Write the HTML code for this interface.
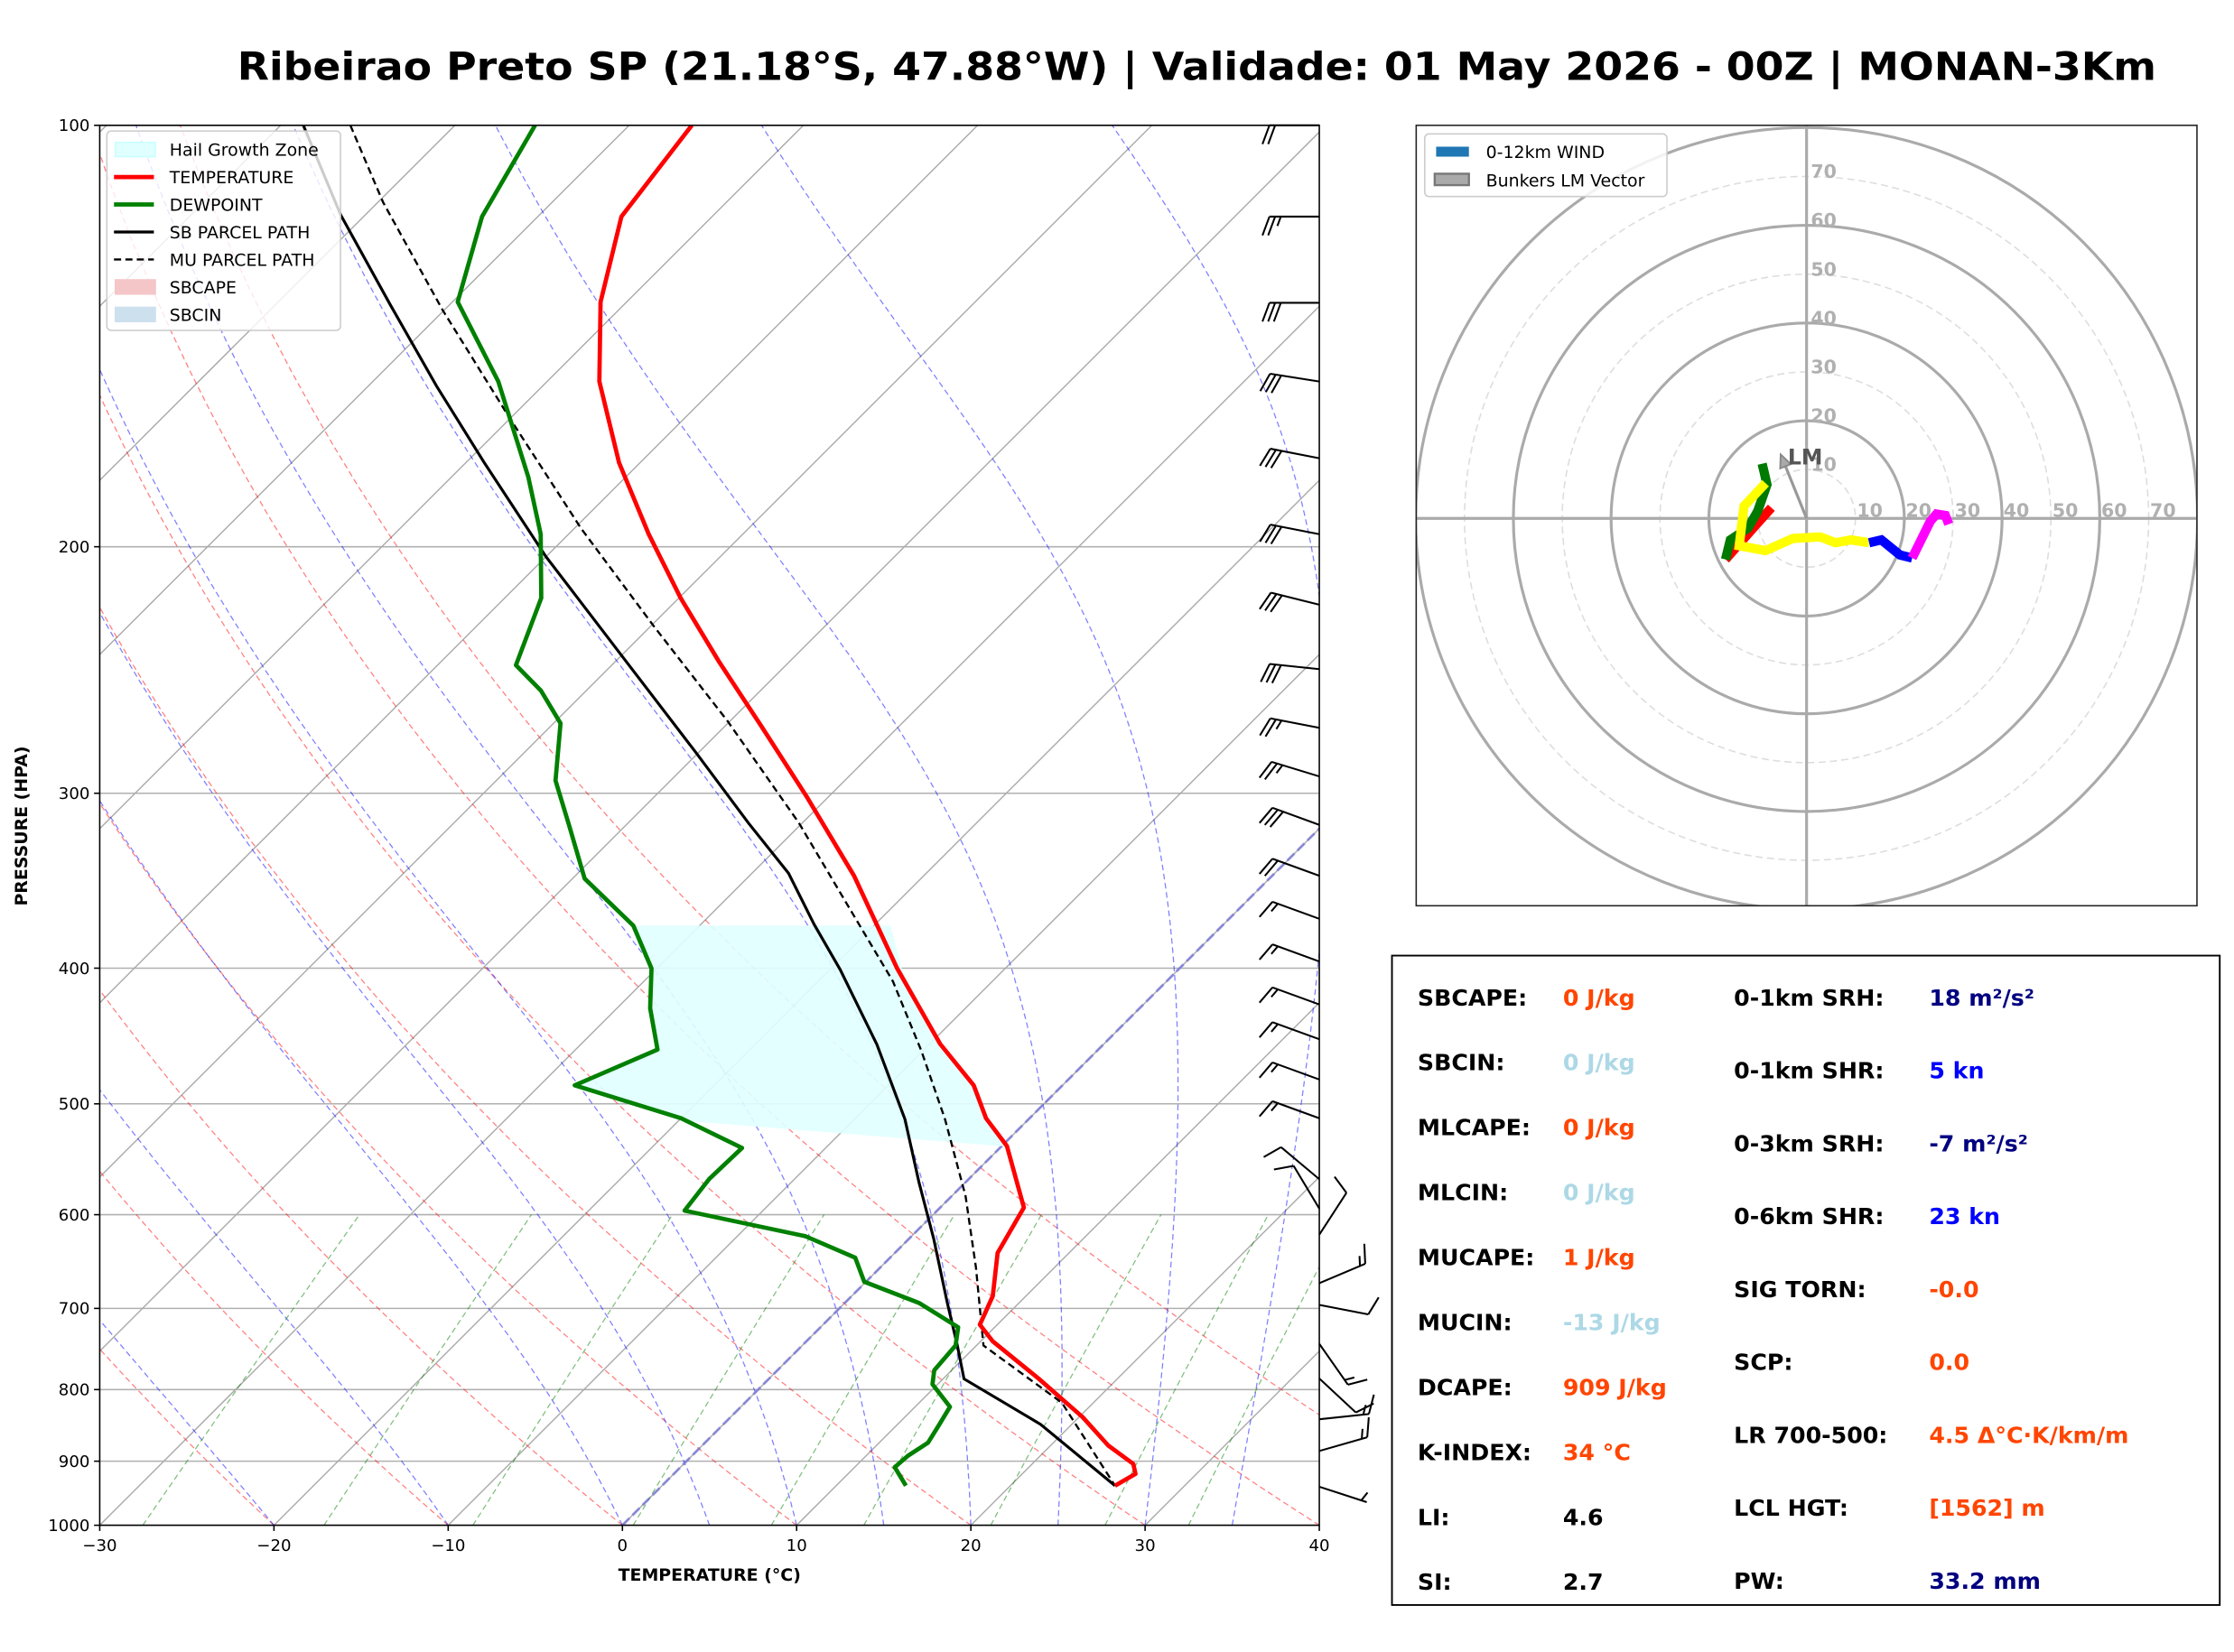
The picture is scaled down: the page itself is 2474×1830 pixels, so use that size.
<!DOCTYPE html>
<html><head><meta charset="utf-8"><title>Skew-T Ribeirao Preto</title>
<style>
html,body{margin:0;padding:0;background:#fff;}
svg{display:block;font-family:"DejaVu Sans","Liberation Sans",sans-serif;}
</style></head>
<body>
<svg id="fig" xmlns="http://www.w3.org/2000/svg" width="2474" height="1830" viewBox="0 0 1568 1160" preserveAspectRatio="none">
<defs>
<clipPath id="skewclip"><rect x="70" y="88" width="856" height="983"/></clipPath>
<clipPath id="hodoclip"><rect x="994" y="88" width="548" height="548"/></clipPath>
</defs>
<rect x="0" y="0" width="1568" height="1160" fill="#fff"/>
<text x="840" y="56" text-anchor="middle" font-weight="bold" font-size="27" textLength="1347" lengthAdjust="spacingAndGlyphs">Ribeirao Preto SP (21.18°S, 47.88°W) | Validade: 01 May 2026 - 00Z | MONAN-3Km</text>
<g id="skew"></g>
<g id="hodo"></g>
<g id="stats"></g>
</svg>
<script>
// ---------- DATA ----------
const tempP=[100,116.2,133.7,152.4,174.2,195.9,217.6,241.8,268.7,302,343.6,400.2,453.1,485,512,536,593,639,686,719,739,786,837,877,904,919,937];
const tempT=[-76.4,-75.2,-71.5,-67.0,-61.2,-55.4,-49.9,-44.0,-37.9,-31.2,-24.0,-16.2,-9.4,-5.1,-2.5,0.3,4.8,5.9,8.1,9.0,10.7,15.5,20.2,23.3,25.8,26.5,26.0];
const dewP=[100,116.2,133.7,152.4,178.3,195.9,217.6,243,253.4,267.4,293.8,316.6,345.2,373,400.2,427.2,457.3,485,512,537.6,566,596,621.6,644,670,694,722,744,775,793,823,847,873,892,909,937];
const dewT=[-85.4,-83.2,-79.7,-72.8,-65.6,-61.6,-57.9,-55.5,-52.6,-49.6,-46.6,-43.2,-39.3,-33.8,-30.3,-28.1,-25.3,-28.0,-20.0,-14.8,-14.9,-14.5,-6.1,-2.0,-0.1,4.3,7.9,8.8,9.0,9.7,12.0,12.4,12.8,12.4,12.3,14.0];
const sbP=[100,115.9,134.1,153.5,174,203.3,240.3,280.8,315,342.2,372.2,401,453.5,512.8,568.5,624,694,744,786,847,937];
const sbT=[-98.7,-91.4,-83.5,-76.1,-69.0,-60.0,-49.7,-40.1,-33.1,-27.9,-23.5,-19.4,-13.0,-7.1,-2.7,1.4,5.9,8.9,11.2,18.2,26.0];
const muP=[100,113.5,135.5,161.7,194.1,228,266.6,315,364.4,408.8,458.1,512.8,582,654.6,744,817.6,937];
const muT=[-96.0,-89.7,-80.1,-70.1,-59.6,-49.8,-40.1,-30.2,-22.1,-15.7,-10.1,-4.8,0.8,5.5,10.4,18.2,26.0];
const pressureTicks=[100,200,300,400,500,600,700,800,900,1000];
const tempTicks=[-30,-20,-10,0,10,20,30,40];
const barbP=[100,116.2,133.9,152.4,172.9,195.9,220,244.6,269.4,291.8,316,343.6,368.8,395.6,424.6,449.6,480.4,512,566,594,620,671.6,696,742,785.5,840,885,938.6];
const barbSpd=[20,25,30,30,30,30,30,30,25,25,30,20,15,15,15,15,15,15,10,10,10,15,10,15,10,15,15,5];
const barbDir=[270,270,270,279,281,281,284,276,281,287,290,290,290,290,290,290,290,290,310,329,33,67,101,145,133,84,74,108];
const hodoRedU=[-7.2,-10.5,-16.6], hodoRedV=[2.2,-1.5,-8.4];
const hodoGreenU=[-16.6,-15.6,-12,-10,-8.1,-8.7,-9.1], hodoGreenV=[-8.4,-4.4,-2,1.5,6.9,9.5,11.2];
const hodoYellowU=[-8.4,-12.8,-13.8,-8.4,-2.8,2.8,5.9,9.1,12.8], hodoYellowV=[7.2,2.5,-5.6,-6.6,-4.1,-3.8,-5.0,-4.4,-5.0];
const hodoBlueU=[12.8,15.3,19.1,21.6], hodoBlueV=[-5.0,-4.4,-7.5,-8.1];
const hodoMagU=[21.6,25.3,26.6,28.4,29.1], hodoMagV=[-8.1,-0.6,0.9,0.6,-1.2];
const lmU=-5.3, lmV=13.1;
const hodoRings=[10,20,30,40,50,60,70,80];

// ---------- helpers ----------
const NS='http://www.w3.org/2000/svg';
function mk(tag,attrs,parent){const e=document.createElementNS(NS,tag);for(const k in attrs)e.setAttribute(k,attrs[k]);if(parent)parent.appendChild(e);return e;}
const X0=70,X1=926,Y0=88,Y1=1071,K=856/70;
const yP=p=>Y0+983*Math.log10(p/100);
const xT=(T,p)=>X0+(T+30)*K+(Y1-yP(p));
function pathFrom(P,T){return P.map((p,i)=>(i?'L':'M')+xT(T[i],p).toFixed(2)+' '+yP(p).toFixed(2)).join('');}

const skew=document.getElementById('skew');
const clip=mk('g',{'clip-path':'url(#skewclip)'},skew);



pressureTicks.forEach(p=>{
  const l=mk('line',{x1:X0,x2:X1,y1:yP(p),y2:yP(p),stroke:'#b0b0b0','stroke-width':1},clip);
  
  
});
for(let T=-120;T<=40;T+=10){
  const l=mk('path',{d:'M'+xT(T,1000)+' '+yP(1000)+'L'+xT(T,100)+' '+yP(100),stroke:'#aaaaaa','stroke-width':0.9,fill:'none'},clip);
  
  
}
for(let th=-30;th<=50;th+=10){
  let d='';for(let p=1000;p>=100;p-=10){const T=(th+273.15)*Math.pow(p/1000,0.2857)-273.15;d+=(d?'L':'M')+xT(T,p).toFixed(1)+' '+yP(p).toFixed(1);}
  const l=mk('path',{d:d,stroke:'#ff0000','stroke-opacity':0.5,'stroke-width':0.8,'stroke-dasharray':'4 2.5',fill:'none'},clip);
  
  
}
function es(Tc){return 6.112*Math.exp(17.67*Tc/(Tc+243.5));}
function dTdp(Tk,p){const rs=0.622*es(Tk-273.15)/(p-es(Tk-273.15));return (287.04*Tk+2.501e6*rs)/(p*(1005.7+2.501e6*2.501e6*rs*0.622/(287.04*Tk*Tk)));}
[-30,-20,-10,0,5,10,15,20,25,30,35].forEach(t0=>{
  let Tk=t0+273.15,p=1000,d='M'+xT(t0,1000).toFixed(1)+' '+yP(1000).toFixed(1);
  const h=-5;
  while(p>100){const k1=dTdp(Tk,p),k2=dTdp(Tk+h*k1,p+h);Tk+=h*(k1+k2)/2;p+=h;d+='L'+xT(Tk-273.15,p).toFixed(1)+' '+yP(p).toFixed(1);}
  const l=mk('path',{d:d,stroke:'#0000ff','stroke-opacity':0.5,'stroke-width':0.8,'stroke-dasharray':'4 2.5',fill:'none'},clip);
  
  
});
[0.0004,0.001,0.002,0.004,0.007,0.01,0.016,0.024,0.032].forEach(w=>{
  let d='';for(let p=1000;p>=600;p-=20){const e=p*w/(0.622+w);const lnr=Math.log(e/6.112);const Td=243.5*lnr/(17.67-lnr);d+=(d?'L':'M')+xT(Td,p).toFixed(1)+' '+yP(p).toFixed(1);}
  const l=mk('path',{d:d,stroke:'#008000','stroke-opacity':0.5,'stroke-width':0.8,'stroke-dasharray':'4 2.5',fill:'none'},clip);
  
  
});
const zero=mk('path',{d:'M'+xT(0,1000)+' '+yP(1000)+'L'+xT(0,100)+' '+yP(100),stroke:'#7b7bd8','stroke-width':1.8,'stroke-dasharray':'7 3',fill:'none','stroke-opacity':0.8},clip);


const hail=mk('path',{d:'M446 650L625 650L633 680L660 733L684 762L692 785L706 805L480 787L403 762L462 737L456 708L457 680Z',fill:'#e0ffff','fill-opacity':0.9,stroke:'none'},clip);


const sbl=mk('path',{d:pathFrom(sbP,sbT),stroke:'#000',fill:'none','stroke-width':2},clip);


const mul=mk('path',{d:pathFrom(muP,muT),stroke:'#000',fill:'none','stroke-width':1.5,'stroke-dasharray':'5 3'},clip);


const tl=mk('path',{d:pathFrom(tempP,tempT),stroke:'#ff0000',fill:'none','stroke-width':3,'stroke-linejoin':'round'},clip);


const dl=mk('path',{d:pathFrom(dewP,dewT),stroke:'#008000',fill:'none','stroke-width':3,'stroke-linejoin':'round'},clip);



const fr=mk('rect',{x:X0,y:Y0,width:X1-X0,height:Y1-Y0,fill:'none',stroke:'#000','stroke-width':1},skew);


pressureTicks.forEach(p=>{
  const t=mk('line',{x1:X0-4,x2:X0,y1:yP(p),y2:yP(p),stroke:'#000','stroke-width':1},skew);
  
  
  const tx=mk('text',{x:X0-7,y:yP(p)+4,'text-anchor':'end','font-size':11.5},skew);
  tx.textContent=p;
  
  
});
tempTicks.forEach(T=>{
  const x=X0+(T+30)*K;
  const t=mk('line',{x1:x,x2:x,y1:Y1,y2:Y1+4,stroke:'#000','stroke-width':1},skew);
  
  
  const tx=mk('text',{x:x,y:Y1+18,'text-anchor':'middle','font-size':11.5},skew);
  tx.textContent=(T<0?'\u2212'+(-T):T);
  
  
});
const xl=mk('text',{x:498,y:1110,'text-anchor':'middle','font-size':12,'font-weight':'bold'},skew);
xl.textContent='TEMPERATURE (°C)';


const yl=mk('text',{x:0,y:0,'text-anchor':'middle','font-size':12,'font-weight':'bold',transform:'translate(19 580) rotate(-90)'},skew);
yl.textContent='PRESSURE (HPA)';



barbP.forEach((p,i)=>{
  const g=mk('g',{stroke:'#000','stroke-width':1.3,fill:'none'},skew);
  
  
  const ax=X1,ay=yP(p),L=35,th=barbDir[i]*Math.PI/180;
  const sx=Math.sin(th),sy=-Math.cos(th);
  const ex=ax+sx*L,ey=ay+sy*L;
  mk('line',{x1:ax,y1:ay,x2:ex,y2:ey},g);
  const px=sy,py=-sx,tilt=0.35,bl=14;
  const tx=px*0.94+sx*tilt,ty=py*0.94+sy*tilt;
  let spd=barbSpd[i],pos=0;
  const full=Math.floor(spd/10),half=(spd%10)>=5?1:0;
  for(let k=0;k<full;k++){const bx=ex-sx*pos,by=ey-sy*pos;mk('line',{x1:bx,y1:by,x2:bx+tx*bl,y2:by+ty*bl},g);pos+=4;}
  if(half){if(full===0)pos=4;const bx=ex-sx*pos,by=ey-sy*pos;mk('line',{x1:bx,y1:by,x2:bx+tx*bl/2,y2:by+ty*bl/2},g);}
});

const lg=mk('g',{},skew);


mk('rect',{x:75,y:92,width:164,height:140,rx:3,fill:'#fff','fill-opacity':0.8,stroke:'#cccccc'},lg);
const items=[['Hail Growth Zone','patch','#e0ffff','#c8ffff'],['TEMPERATURE','line','#ff0000',3],['DEWPOINT','line','#008000',3],['SB PARCEL PATH','line','#000',2],['MU PARCEL PATH','dash','#000',1.5],['SBCAPE','patch','#f4c6c8','#f4c6c8'],['SBCIN','patch','#cde0ee','#cde0ee']];
items.forEach((it,i)=>{
  const y=105+i*19.3;
  const e=mk('g',{},lg);
  
  
  if(it[1]==='patch')mk('rect',{x:81,y:y-5,width:28,height:10,fill:it[2],stroke:it[3]},e);
  else mk('line',{x1:80,x2:108,y1:y,y2:y,stroke:it[2],'stroke-width':it[3],'stroke-dasharray':it[1]==='dash'?'5 3':'none'},e);
  const t=mk('text',{x:119,y:y+4.5,'font-size':12},e);t.textContent=it[0];
});

// ---------- HODOGRAPH ----------
const hodo=document.getElementById('hodo');
const CX=1268,CY=364,R=3.43;
const hc=mk('g',{'clip-path':'url(#hodoclip)'},hodo);


hodoRings.forEach(k=>{
  const c=mk('circle',{cx:CX,cy:CY,r:k*R,fill:'none',stroke:k%20===0?'#aaaaaa':'#dddddd','stroke-width':k%20===0?2:1,'stroke-dasharray':k%20===0?'none':'5 3'},hc);
  
  
});
const ha=mk('path',{d:'M994 '+CY+'L1542 '+CY+'M'+CX+' 88L'+CX+' 636',stroke:'#aaaaaa','stroke-width':2},hc);


hodoRings.slice(0,7).forEach(k=>{
  const t=mk('text',{x:CX+k*R+1,y:CY-1,'font-size':13,'font-weight':'bold',fill:'#b0b0b0'},hc);t.textContent=k;
  
  
  const t2=mk('text',{x:CX+3,y:CY-k*R+1,'font-size':13,'font-weight':'bold',fill:'#b0b0b0'},hc);t2.textContent=k;
  
  
});
function hseg(U,V,color,name){
  const d=U.map((u,i)=>(i?'L':'M')+(CX+u*R).toFixed(1)+' '+(CY-V[i]*R).toFixed(1)).join('');
  const p=mk('path',{d:d,stroke:color,'stroke-width':6.5,fill:'none','stroke-linejoin':'miter','stroke-linecap':'butt'},hc);
  
  
}
hseg(hodoRedU,hodoRedV,'#ff0000','hodo-segment-red');
hseg(hodoGreenU,hodoGreenV,'#007a00','hodo-segment-green');
hseg(hodoYellowU,hodoYellowV,'#ffff00','hodo-segment-yellow');
hseg(hodoBlueU,hodoBlueV,'#0000ff','hodo-segment-blue');
hseg(hodoMagU,hodoMagV,'#ff00ff','hodo-segment-magenta');
const lmx=CX+lmU*R,lmy=CY-lmV*R;
const ang=Math.atan2(lmy-CY,lmx-CX);
const ar=mk('g',{},hc);


const bx=lmx-Math.cos(ang)*9,by=lmy-Math.sin(ang)*9;
mk('line',{x1:CX,y1:CY,x2:bx,y2:by,stroke:'#999','stroke-width':2},ar);
mk('path',{d:'M'+lmx+' '+lmy+'L'+(bx+Math.sin(ang)*4)+' '+(by-Math.cos(ang)*4)+'L'+(bx-Math.sin(ang)*4)+' '+(by+Math.cos(ang)*4)+'Z',fill:'#aaa',stroke:'#888','stroke-width':1.2},ar);
const lmt=mk('text',{x:lmx+5,y:lmy+7,'font-size':15,'font-weight':'bold',fill:'#555'},hc);
lmt.textContent='LM';


const hf=mk('rect',{x:994,y:88,width:548,height:548,fill:'none',stroke:'#222','stroke-width':1},hodo);


const hl=mk('g',{},hodo);


mk('rect',{x:1000,y:94,width:170,height:44,rx:3,fill:'#fff','fill-opacity':0.85,stroke:'#cccccc'},hl);
const he1=mk('g',{},hl);


mk('rect',{x:1008,y:103,width:23,height:7,fill:'#1f77b4'},he1);
const ht1=mk('text',{x:1043,y:111,'font-size':12},he1);ht1.textContent='0-12km WIND';
const he2=mk('g',{},hl);


mk('rect',{x:1007,y:122,width:24,height:8,fill:'#aaaaaa',stroke:'#777','stroke-width':1.5},he2);
const ht2=mk('text',{x:1043,y:131,'font-size':12},he2);ht2.textContent='Bunkers LM Vector';

// ---------- STATS ----------
const st=document.getElementById('stats');
const sb=mk('rect',{x:977,y:671,width:581,height:456,fill:'#fff',stroke:'#000','stroke-width':1.2},st);


const OR='#ff4500',LB='#add8e6',NV='#000080',BL='#0000ff',BK='#000';
const left=[['SBCAPE:','0 J/kg',OR],['SBCIN:','0 J/kg',LB],['MLCAPE:','0 J/kg',OR],['MLCIN:','0 J/kg',LB],['MUCAPE:','1 J/kg',OR],['MUCIN:','-13 J/kg',LB],['DCAPE:','909 J/kg',OR],['K-INDEX:','34 °C',OR],['LI:','4.6',BK],['SI:','2.7',BK]];
const right=[['0-1km SRH:','18 m²/s²',NV],['0-1km SHR:','5 kn',BL],['0-3km SRH:','-7 m²/s²',NV],['0-6km SHR:','23 kn',BL],['SIG TORN:','-0.0',OR],['SCP:','0.0',OR],['LR 700-500:','4.5 Δ°C·K/km/m',OR],['LCL HGT:','[1562] m',OR],['PW:','33.2 mm',NV]];
left.forEach((r,i)=>{
  const y=706+i*45.6;
  const a=mk('text',{x:995,y:y,'font-size':16,'font-weight':'bold',fill:'#000'},st);a.textContent=r[0];
  
  
  const b=mk('text',{x:1097,y:y,'font-size':16,'font-weight':'bold',fill:r[2]},st);b.textContent=r[1];
  
  
});
right.forEach((r,i)=>{
  const y=706+i*51.2;
  const a=mk('text',{x:1217,y:y,'font-size':16,'font-weight':'bold',fill:'#000'},st);a.textContent=r[0];
  
  
  const b=mk('text',{x:1354,y:y,'font-size':16,'font-weight':'bold',fill:r[2]},st);b.textContent=r[1];
  
  
});
</script>
</body></html>
